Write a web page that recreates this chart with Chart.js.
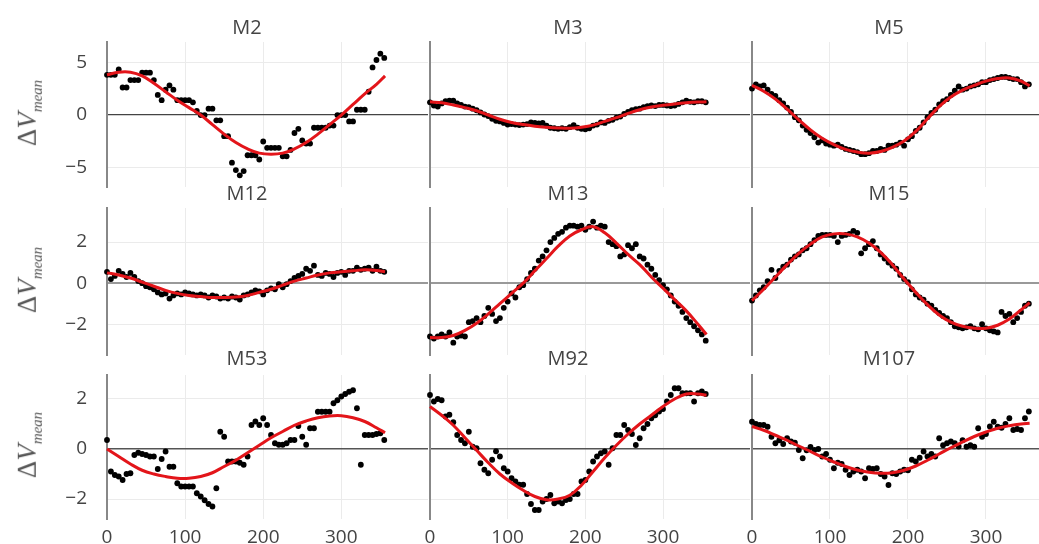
<!DOCTYPE html>
<html>
<head>
<meta charset="utf-8">
<script src="https://cdn.jsdelivr.net/npm/chart.js@4.4.1/dist/chart.umd.min.js"></script>
<style>
  body { margin: 0; background: #fff; width: 1039px; height: 544px; overflow: hidden; position: relative; font-family: "Open Sans", sans-serif; }
  .box { position: absolute; }
  .title { position: absolute; font-size: 20px; color: #444; transform: translate(-50%, -50%); white-space: nowrap; z-index: 2; }
  .ylab { position: absolute; font-family: "Liberation Serif", serif; font-size: 27px; color: #555; transform: translate(-50%, -50%) rotate(-90deg); white-space: nowrap; }
  .ylab sub { font-size: 15px; }
</style>
</head>
<body>
<script>
// observation angle, same for every panel
var angle = [0,5,10,15,20,25,30,35,40,45,50,55,60,65,70,75,80,85,90,95,100,105,110,115,
  120,125,130,135,140,145,150,155,160,165,170,175,180,185,190,195,200,205,210,215,220,225,230,235,
  240,245,250,255,260,265,270,275,280,285,290,295,300,305,310,315,320,325,330,335,340,345,350,355];
var fitAngle = [0,15,30,45,60,75,90,105,120,135,150,165,180,195,210,225,240,255,270,285,300,315,330,345,356];

var names = ['M2','M3','M5','M12','M13','M15','M53','M92','M107'];

var m2 = [3.8,3.8,3.8,4.3,2.6,2.6,3.3,3.3,3.3,4.0,4.0,4.0,
  3.3,1.9,1.4,2.4,2.8,2.4,1.4,1.4,1.4,1.4,1.2,0.4,
  0.0,0.0,0.6,0.6,-0.5,-0.5,-2.0,-2.0,-4.5,-5.2,-5.7,-5.3,
  -3.8,-3.8,-3.8,-4.2,-2.5,-3.1,-3.1,-3.1,-3.1,-3.9,-3.9,-3.3,
  -1.7,-1.3,-2.4,-2.7,-2.7,-1.2,-1.2,-1.2,-1.2,-1.0,-1.0,0.0,
  0.0,0.0,-0.6,-0.6,0.5,0.5,0.5,2.2,4.5,5.2,5.8,5.4];
var m3 = [1.2,0.9,0.8,1.1,1.3,1.35,1.35,1.1,0.95,0.8,0.75,0.6,
  0.45,0.25,0.05,-0.1,-0.35,-0.55,-0.6,-0.75,-0.9,-0.85,-0.9,-0.95,
  -0.9,-0.85,-0.7,-0.75,-0.8,-0.75,-1.0,-1.2,-1.25,-1.3,-1.25,-1.3,
  -1.15,-0.95,-1.2,-1.3,-1.35,-1.25,-1.0,-0.9,-0.7,-0.75,-0.55,-0.45,
  -0.25,-0.15,0.1,0.3,0.45,0.55,0.6,0.75,0.85,0.9,0.85,0.95,
  0.95,0.9,0.85,0.9,1.05,1.2,1.35,1.25,1.2,1.3,1.3,1.2];
var m5 = [2.5,2.9,2.7,2.8,2.4,2.0,1.8,1.4,1.1,0.7,0.3,-0.2,
  -0.5,-1.0,-1.4,-1.7,-2.1,-2.6,-2.4,-2.7,-2.8,-2.9,-2.8,-3.0,
  -3.2,-3.3,-3.4,-3.5,-3.7,-3.7,-3.6,-3.4,-3.4,-3.2,-3.3,-2.9,
  -2.9,-2.8,-2.6,-2.9,-2.3,-2.0,-1.5,-1.2,-0.7,-0.2,0.2,0.5,
  1.0,1.3,1.5,1.9,2.3,2.7,2.4,2.5,2.7,2.8,2.9,3.1,
  3.1,3.3,3.4,3.5,3.6,3.6,3.5,3.4,3.4,3.1,2.7,2.9];
var m12 = [0.55,0.2,0.35,0.6,0.45,0.3,0.5,0.3,0.1,0.0,-0.15,-0.2,
  -0.3,-0.45,-0.55,-0.5,-0.75,-0.6,-0.5,-0.55,-0.45,-0.5,-0.55,-0.6,
  -0.55,-0.6,-0.7,-0.6,-0.65,-0.75,-0.7,-0.75,-0.65,-0.7,-0.8,-0.6,
  -0.55,-0.45,-0.35,-0.4,-0.55,-0.35,-0.25,-0.3,-0.05,-0.2,-0.05,0.1,
  0.25,0.35,0.45,0.7,0.6,0.85,0.4,0.35,0.5,0.45,0.3,0.5,
  0.55,0.4,0.6,0.6,0.75,0.65,0.7,0.75,0.6,0.8,0.6,0.55];
var m13 = [-2.6,-2.7,-2.6,-2.5,-2.6,-2.4,-2.9,-2.6,-2.55,-2.6,-1.9,-1.85,
  -1.7,-1.9,-1.6,-1.2,-1.5,-1.85,-1.7,-1.2,-0.9,-0.5,-0.7,-0.2,
  -0.1,0.2,0.5,0.7,1.1,1.3,1.6,2.0,2.2,2.4,2.5,2.7,
  2.8,2.8,2.75,2.8,2.6,2.75,3.0,2.7,2.8,2.75,2.0,1.9,
  1.8,1.3,1.4,1.85,1.7,1.9,1.3,1.2,0.9,0.7,0.4,0.15,
  -0.1,-0.3,-0.6,-0.9,-1.1,-1.4,-1.7,-1.9,-2.1,-2.3,-2.5,-2.8];
var m15 = [-0.85,-0.6,-0.35,-0.2,0.1,0.65,0.25,0.6,0.8,0.9,1.15,1.3,
  1.4,1.6,1.7,1.9,2.1,2.3,2.35,2.35,2.35,2.3,2.0,2.3,
  2.35,2.4,2.55,2.45,1.45,1.7,1.9,2.05,1.7,1.4,1.2,1.0,
  0.85,0.7,0.4,0.2,0.05,-0.3,-0.55,-0.7,-0.8,-1.0,-1.1,-1.3,
  -1.45,-1.6,-1.7,-1.9,-2.1,-2.15,-2.2,-2.15,-2.1,-2.2,-2.25,-2.0,
  -2.2,-2.3,-2.35,-2.4,-1.4,-1.6,-1.5,-1.9,-1.7,-1.4,-1.1,-1.0];
var m53 = [0.36,-0.9,-1.04,-1.1,-1.24,-1.0,-0.97,-0.24,-0.15,-0.2,-0.24,-0.3,
  -0.3,-0.8,-0.4,-0.1,-0.71,-0.71,-1.37,-1.5,-1.5,-1.5,-1.5,-1.77,
  -1.9,-2.05,-2.2,-2.3,-1.57,0.69,0.49,-0.5,-0.5,-0.5,-0.55,-0.63,
  -0.3,0.96,1.1,0.96,1.23,0.96,0.56,0.23,0.17,0.17,0.23,0.36,
  0.36,0.92,0.49,0.17,0.83,0.83,1.49,1.49,1.49,1.49,1.83,1.95,
  2.1,2.2,2.29,2.35,1.63,-0.63,0.56,0.56,0.56,0.6,0.63,0.36];
var m92 = [2.16,1.9,2.0,1.95,1.3,1.37,1.07,0.56,0.36,0.23,0.69,0.09,
  0.03,-0.57,-0.83,-0.97,-0.43,-0.09,-0.3,-0.77,-0.9,-1.17,-1.3,-1.43,
  -1.43,-1.8,-2.2,-2.44,-2.44,-2.1,-2.0,-1.84,-2.17,-2.1,-2.17,-2.04,
  -2.0,-1.8,-1.8,-1.3,-1.24,-0.9,-0.5,-0.3,-0.17,-0.1,-0.63,0.03,
  0.56,0.56,0.96,0.76,0.6,0.16,0.43,0.83,1.0,1.23,1.35,1.5,
  1.6,1.9,2.16,2.43,2.43,2.23,2.23,2.23,1.9,2.23,2.3,2.2];
var m107 = [1.09,1.0,0.96,0.96,0.89,0.49,0.23,0.35,0.2,0.43,0.3,0.25,
  -0.04,-0.37,-0.05,0.08,-0.04,0.0,-0.3,-0.2,-0.43,-0.77,-0.55,-0.6,
  -0.83,-1.04,-0.9,-0.83,-0.9,-1.17,-0.77,-0.8,-0.77,-1.0,-1.1,-1.44,
  -0.97,-1.0,-0.9,-0.83,-0.85,-0.43,-0.5,-0.35,-0.1,-0.3,-0.2,-0.3,
  0.43,0.15,0.23,0.3,0.23,0.1,0.35,0.09,0.15,0.09,0.83,0.49,
  0.6,0.9,1.09,0.89,0.85,1.0,1.23,0.76,0.8,0.76,1.23,1.5];

// fitted curves
var m2Fit = [3.8,4.05,4.05,3.7,3.0,2.2,1.4,0.7,0.0,-0.9,-1.8,-2.6,-3.2,-3.6,-3.7,-3.6,-3.2,-2.6,-1.8,-0.9,0.0,1.0,2.0,2.9,3.7];
var m3Fit = [1.25,1.15,0.95,0.7,0.4,0.0,-0.4,-0.7,-0.9,-1.05,-1.15,-1.22,-1.25,-1.15,-0.95,-0.6,-0.25,0.15,0.5,0.75,0.92,1.05,1.15,1.22,1.25];
var m5Fit = [2.8,2.25,1.5,0.55,-0.45,-1.4,-2.2,-2.8,-3.25,-3.5,-3.6,-3.45,-3.05,-2.45,-1.55,-0.35,0.8,1.7,2.35,2.8,3.2,3.45,3.5,3.2,2.75];
var m12Fit = [0.5,0.4,0.25,0.05,-0.15,-0.35,-0.5,-0.6,-0.65,-0.7,-0.7,-0.68,-0.6,-0.45,-0.3,-0.1,0.1,0.25,0.4,0.5,0.55,0.6,0.65,0.62,0.55];
var m13Fit = [-2.65,-2.65,-2.55,-2.3,-1.95,-1.5,-1.0,-0.5,0.0,0.6,1.2,1.8,2.3,2.6,2.75,2.45,1.95,1.4,0.9,0.3,-0.25,-0.8,-1.35,-2.0,-2.5];
var m15Fit = [-0.85,-0.3,0.3,0.9,1.45,1.9,2.25,2.4,2.4,2.25,1.95,1.5,0.9,0.2,-0.45,-1.05,-1.55,-1.9,-2.1,-2.2,-2.2,-2.05,-1.75,-1.3,-0.95];
var m53Fit = [0,-0.3,-0.6,-0.85,-1.0,-1.1,-1.17,-1.17,-1.1,-0.95,-0.7,-0.45,-0.15,0.15,0.45,0.7,0.95,1.12,1.25,1.32,1.33,1.25,1.1,0.85,0.65];
var m92Fit = [1.7,1.35,0.95,0.45,-0.05,-0.55,-1.0,-1.35,-1.65,-1.9,-2.03,-2.0,-1.85,-1.45,-0.9,-0.35,0.15,0.6,1.0,1.35,1.7,2.0,2.2,2.2,2.15];
var m107Fit = [0.9,0.75,0.55,0.35,0.12,-0.1,-0.32,-0.52,-0.7,-0.84,-0.93,-0.97,-0.95,-0.85,-0.68,-0.45,-0.2,0.05,0.28,0.5,0.68,0.83,0.93,1.0,1.03];

var obs = [m2, m3, m5, m12, m13, m15, m53, m92, m107];
var fits = [m2Fit, m3Fit, m5Fit, m12Fit, m13Fit, m15Fit, m53Fit, m92Fit, m107Fit];

// axis ranges per row / column
var yMin = [-6.8, -3.5, -2.8];
var yMax = [6.9, 3.66, 2.96];
var yStep = [5, 2, 2];
var xMax = [411, 412, 368];

// layout (px)
var colLeft = [107, 430, 752];
var colWidth = [321, 320, 287];
var rowTop = [42, 208, 375];
var rowHeight = [145, 147, 144];
var titleX = [247, 568, 889];
var titleY = [26, 192, 357];
var zeroColor = ['#444', '#999', '#555'];
var zeroWidth = [1.2, 2, 1.5];
var padT = 16;

Chart.defaults.font.family = '"Open Sans", sans-serif';

function panel(r, c) {
  var k = r * 3 + c;
  var padL = c === 0 ? 70 : 16;
  var padB = r === 2 ? 32 : 16;
  var box = document.createElement('div');
  box.className = 'box';
  box.style.left = (colLeft[c] - padL) + 'px';
  box.style.top = (rowTop[r] - padT) + 'px';
  box.style.width = (colWidth[c] + padL + 4) + 'px';
  box.style.height = (rowHeight[r] + padT + padB) + 'px';
  var cv = document.createElement('canvas');
  box.appendChild(cv);
  document.body.appendChild(box);

  new Chart(cv, {
    type: 'scatter',
    data: {
      datasets: [
        {
          type: 'line',
          data: fitAngle.map(function (x, j) { return { x: x, y: fits[k][j] }; }),
          borderColor: '#e3151a',
          borderWidth: 3,
          pointRadius: 0,
          tension: 0.4,
          fill: false,
          order: 0,
          clip: false
        },
        {
          data: angle.map(function (x, j) { return { x: x, y: obs[k][j] }; }),
          backgroundColor: '#000',
          borderWidth: 0,
          pointRadius: 2.9,
          order: 1,
          clip: 8
        }
      ]
    },
    options: {
      responsive: true,
      maintainAspectRatio: false,
      animation: false,
      layout: { padding: { top: padT, right: 4, left: 0, bottom: 0 } },
      plugins: { legend: { display: false }, tooltip: { enabled: false } },
      scales: {
        x: {
          type: 'linear',
          min: 0,
          max: xMax[c],
          afterBuildTicks: function (s) { s.ticks = s.ticks.filter(function (t) { return t.value <= 300; }); },
          afterFit: function (s) { s.height = padB; },
          border: { display: false },
          grid: {
            drawTicks: true,
            tickLength: 5,
            tickColor: 'rgba(0,0,0,0)',
            color: function (ctx) { return ctx.tick && ctx.tick.value === 0 ? 'rgba(0,0,0,0)' : '#ebebeb'; }
          },
          ticks: { display: r === 2, stepSize: 100, includeBounds: false, padding: 2, color: '#444', font: { size: 19 }, maxRotation: 0 }
        },
        y: {
          min: yMin[r],
          max: yMax[r],
          afterBuildTicks: function (s) {
            s.ticks = s.ticks.filter(function (t) { return Math.abs(t.value % yStep[r]) < 1e-9; });
          },
          afterFit: function (s) { s.width = padL; },
          border: { display: true, color: '#888', width: 2 },
          grid: {
            drawTicks: true,
            tickLength: 18,
            tickColor: 'rgba(0,0,0,0)',
            color: function (ctx) { return ctx.tick && ctx.tick.value === 0 ? zeroColor[r] : '#ebebeb'; },
            lineWidth: function (ctx) { return ctx.tick && ctx.tick.value === 0 ? zeroWidth[r] : 1; }
          },
          ticks: {
            display: c === 0,
            stepSize: yStep[r],
            includeBounds: false,
            padding: 2,
            color: '#444',
            font: { size: 19 },
            callback: function (v) { return v < 0 ? '\u2212' + Math.abs(v) : String(v); }
          }
        }
      }
    }
  });
}

for (var r = 0; r < 3; r++) {
  for (var c = 0; c < 3; c++) {
    panel(r, c);
    var t = document.createElement('div');
    t.className = 'title';
    t.style.left = titleX[c] + 'px';
    t.style.top = titleY[r] + 'px';
    t.textContent = names[r * 3 + c];
    document.body.appendChild(t);
  }
  var yl = document.createElement('div');
  yl.className = 'ylab';
  yl.style.left = '29px';
  yl.style.top = (rowTop[r] + rowHeight[r] / 2 - 2) + 'px';
  yl.innerHTML = '\u0394<i>V</i><sub><i>mean</i></sub>';
  document.body.appendChild(yl);
}
</script>
</body>
</html>
